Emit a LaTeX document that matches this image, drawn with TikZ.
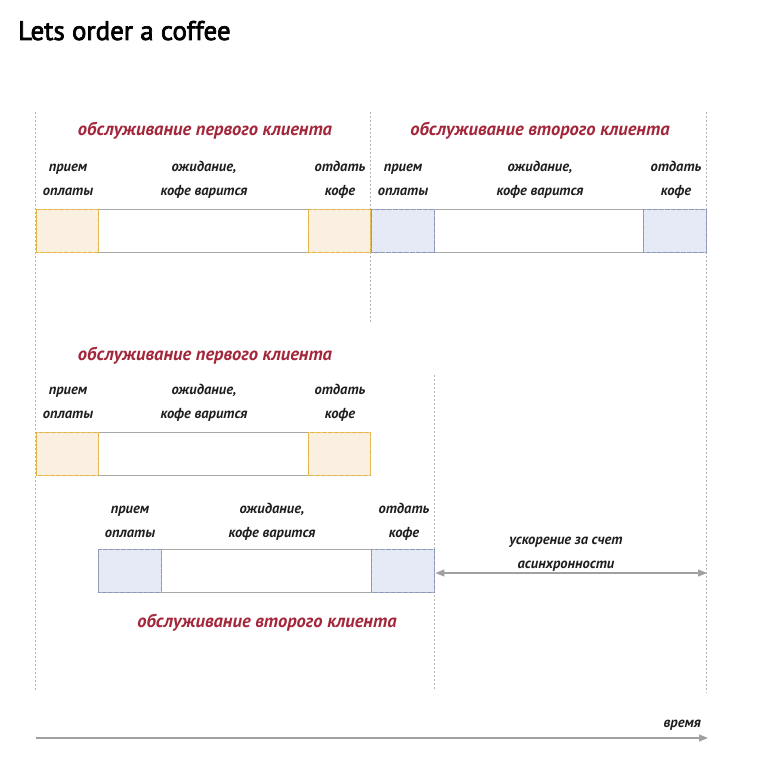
\documentclass[tikz,border=0pt]{standalone}
\usepackage{fontspec}
\setmainfont{PT Sans}
\usetikzlibrary{arrows.meta,patterns.meta}
\definecolor{hred}{HTML}{A3263A}
\definecolor{oedge}{HTML}{E6B547}
\definecolor{ofill}{HTML}{FAF0E2}
\definecolor{bedge}{HTML}{8D98B8}
\definecolor{bfill}{HTML}{E4EAF6}
\definecolor{wedge}{HTML}{A8A8A8}
\definecolor{guide}{HTML}{B4B4B4}
\definecolor{arr}{HTML}{A0A0A0}
\tikzset{
  seg/.style={draw, line width=1.4pt, inner sep=0pt, anchor=north west, minimum height=43pt},
  obox/.style={seg, draw=oedge, fill=ofill, postaction={pattern={Lines[angle=45,distance=4pt,line width=0.5pt]}, pattern color=oedge!22}},
  bbox/.style={seg, draw=bedge, fill=bfill, postaction={pattern={Lines[angle=45,distance=4pt,line width=0.5pt]}, pattern color=bedge!22}},
  wbox/.style={seg, draw=wedge, fill=white, line width=1.1pt},
  lbl/.style={font=\fontsize{14.5}{17}\selectfont\bfseries\itshape, text=black!88, align=center, inner sep=0pt},
  head/.style={font=\fontsize{18.5}{21}\selectfont\bfseries\itshape, text=hred, inner sep=0pt},
  guideline/.style={draw=guide, line width=0.8pt, dash pattern=on 2pt off 2pt},
  garrow/.style={draw=arr, line width=1.1pt, -{Triangle[length=9pt,width=7pt]}},
  darrow/.style={draw=arr, line width=1.1pt, {Triangle[length=9pt,width=7pt]}-{Triangle[length=9pt,width=7pt]}},
}
\begin{document}
\begin{tikzpicture}[x=1pt,y=-1pt]
\useasboundingbox (0,0) rectangle (769,770);
\fill[white] (0,0) rectangle (769,770);

% title
\node[anchor=base west, inner sep=0pt, font=\fontsize{27}{30}\selectfont\addfontfeature{FakeBold=2.5}] (title) at (18,40) {Lets order a coffee};

% guide lines
\coordinate (gA1) at (35,112); \coordinate (gA2) at (35,690);
\coordinate (gB1) at (370,112); \coordinate (gB2) at (370,322);
\coordinate (gC1) at (706,112); \coordinate (gC2) at (706,693);
\coordinate (gD1) at (434,375); \coordinate (gD2) at (434,690);
\draw[guideline] (gA1) -- (gA2);
\draw[guideline] (gB1) -- (gB2);
\draw[guideline] (gC1) -- (gC2);
\draw[guideline] (gD1) -- (gD2);

% ---- row 1 ----
\node[head] (h1) at (205,131) {обслуживание первого клиента};
\node[head] (h2) at (540,131) {обслуживание второго клиента};
\node[lbl] (l1a) at (68,180) {прием\\[7pt]оплаты};
\node[lbl] (l1b) at (204,180) {ожидание,\\[7pt]кофе варится};
\node[lbl] (l1c) at (340,180) {отдать\\[7pt]кофе};
\node[lbl] (l2a) at (403,180) {прием\\[7pt]оплаты};
\node[lbl] (l2b) at (540,180) {ожидание,\\[7pt]кофе варится};
\node[lbl] (l2c) at (676,180) {отдать\\[7pt]кофе};

\node[wbox, minimum width=210pt] (r1w) at (98,209) {};
\node[obox, minimum width=62pt] (r1a) at (36,209) {};
\node[obox, minimum width=62pt] (r1c) at (308,209) {};
\node[wbox, minimum width=209pt] (r2w) at (434,209) {};
\node[bbox, minimum width=63pt] (r2a) at (371,209) {};
\node[bbox, minimum width=63pt] (r2c) at (643,209) {};

% ---- row 2 ----
\node[head] (h3) at (205,356) {обслуживание первого клиента};
\node[lbl] (l3a) at (68,403) {прием\\[7pt]оплаты};
\node[lbl] (l3b) at (204,403) {ожидание,\\[7pt]кофе варится};
\node[lbl] (l3c) at (340,403) {отдать\\[7pt]кофе};
\node[wbox, minimum width=210pt] (r3w) at (98,432) {};
\node[obox, minimum width=62pt] (r3a) at (36,432) {};
\node[obox, minimum width=62pt] (r3c) at (308,432) {};

% ---- row 3 ----
\node[lbl] (l4a) at (130,522) {прием\\[7pt]оплаты};
\node[lbl] (l4b) at (272,522) {ожидание,\\[7pt]кофе варится};
\node[lbl] (l4c) at (404,522) {отдать\\[7pt]кофе};
\node[wbox, minimum width=210pt] (r4w) at (161,549) {};
\node[bbox, minimum width=63pt] (r4a) at (98,549) {};
\node[bbox, minimum width=63pt] (r4c) at (371,549) {};
\node[head] (h4) at (267,623) {обслуживание второго клиента};

% speed-up arrow
\node[lbl] (sp) at (566,554) {ускорение за счет\\[7pt]асинхронности};
\coordinate (spE) at (707,573);
\draw[darrow] (r4c.east |- spE) -- (spE);

% time axis
\coordinate (t0) at (36,738);
\coordinate (t1) at (708,738);
\draw[garrow] (t0) -- (t1);
\node[lbl, anchor=base east] (time) at (701,727) {время};
\end{tikzpicture}
\end{document}
